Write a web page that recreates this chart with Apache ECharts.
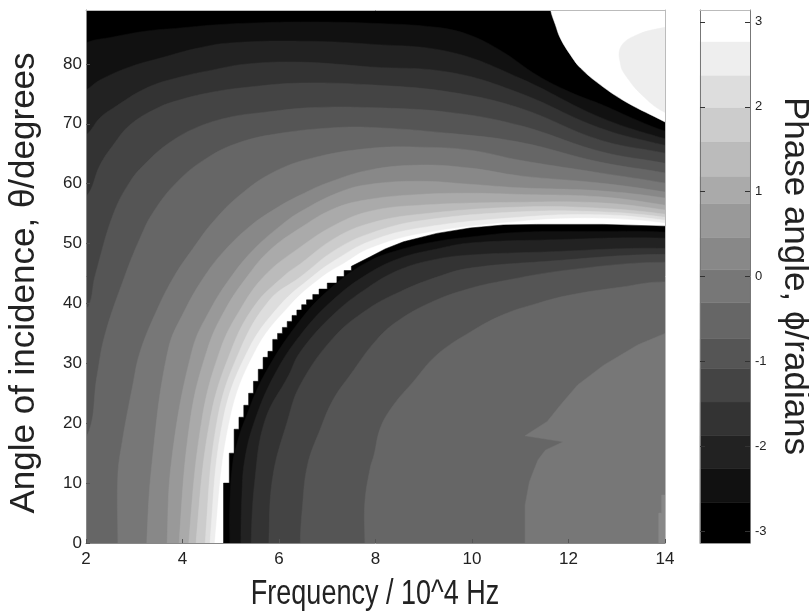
<!DOCTYPE html>
<html><head><meta charset="utf-8">
<style>html,body{margin:0;padding:0;background:#fff}#c{width:809px;height:613px}</style>
<script src="https://cdn.jsdelivr.net/npm/echarts@6/dist/echarts.min.js"></script>
</head><body><div id="c"></div>
<script>
const barTicks=[-3,-2,-1,0,1,2,3];
const xTitle='Frequency / 10^4 Hz';
const yTitle='Angle of incidence, θ/degrees';
const barTitle='Phase angle, ϕ/radians';
const grays=['#000000','#111111','#222222','#333333','#444444','#555555','#666666','#777777','#888888','#999999','#aaaaaa','#bbbbbb','#cccccc','#dddddd','#eeeeee','#ffffff'];
// colour-bar band edges (radians), bottom to top
const barEdges=[-3.14,-2.66,-2.26,-1.87,-1.48,-1.08,-0.73,-0.31,0.08,0.46,0.86,1.18,1.59,1.99,2.37,2.77,3.14];
// level boundaries of the upper sheet: [frequency, angle]
const C1=[[2,83.5],[2.56,84.5],[3.26,85.5],[3.95,86],[4.63,86.5],[5.34,86.8],[6.44,87],[7.89,86.8],[9.27,86.1],[9.96,84.8],[10.64,82],[11.35,78.1],[12.03,75.3],[12.72,73.1],[13.42,70.6],[14,68.8]];
const C2=[[2,75.6],[2.29,77.3],[2.91,79.5],[3.6,81.1],[4.3,82.6],[4.98,83.5],[6.44,83.8],[7.89,83.3],[9.54,82],[11,77.6],[12.65,71.1],[14,67.5]];
const C3=[[2,68.1],[2.29,71],[2.56,72.6],[3.26,76],[3.95,77.8],[4.63,79],[5.34,80],[6.44,80.3],[7.89,79.5],[9.54,78.6],[11,75.1],[12.65,69.3],[14,66.4]];
const C4=[[2,57.8],[2.29,63.1],[2.56,66.4],[2.91,69.8],[3.47,72.6],[3.95,74],[4.63,75.3],[5.34,76.1],[6.44,76.8],[7.89,76.5],[9.54,75.3],[11,72.6],[12.65,67.3],[14,65.1]];
const C5=[[2,38.9],[2.19,44.7],[2.56,54.8],[2.91,60.3],[3.26,63.6],[3.74,66.9],[4.3,69.4],[4.98,71.1],[5.67,71.9],[6.7,72.7],[7.89,72.7],[9.54,71.9],[11,69.7],[12.65,65.4],[14,63.4]];
const C6=[[2,17.5],[2.23,28],[2.39,34.7],[2.81,44.7],[3.12,50.9],[3.39,55.2],[3.89,60.3],[4.51,64.3],[5.19,66.9],[6.02,68.4],[7.06,69.3],[7.89,69.4],[9.54,68.4],[11,66.9],[12.65,63.6],[14,61.8]];
const C7=[[2.66,0],[2.66,11.3],[2.75,16.9],[2.97,26.4],[3.12,31.9],[3.47,38.9],[3.84,44.7],[4.22,49.2],[4.63,53.6],[5.19,58.1],[5.88,61.9],[6.7,64.3],[7.89,65.9],[8.92,66.1],[9.96,65.6],[11,63.9],[12.65,61.8],[14,60.1]];
const C8=[[3.26,0],[3.37,13.5],[3.7,32.2],[4.05,38.9],[4.47,44.7],[4.88,48.9],[5.4,52.9],[5.92,55.8],[6.44,58.1],[7.06,60.3],[7.89,62.3],[8.92,63.1],[9.96,62.6],[11,61.3],[12.65,60.1],[14,58.6]];
const C9=[[3.68,0],[3.78,14.2],[4.2,32.2],[4.57,38.9],[5.03,44.7],[5.5,49.2],[6.02,52.9],[6.44,55.3],[7.26,58.6],[7.89,59.9],[8.92,60.4],[9.96,59.9],[11,59.3],[12.65,58.8],[14,57.6]];
const C10=[[3.93,0],[4.16,20.5],[4.51,32.2],[4.88,38.9],[5.36,44.7],[5.81,48.9],[6.44,52.6],[7.16,55.9],[7.89,57.4],[8.92,58.2],[9.96,58.4],[11,58.2],[12.65,57.8],[14,56.4]];
const C11=[[4.13,0],[4.4,20.5],[4.78,32.2],[5.19,38.9],[5.71,44.7],[6.44,49.4],[7.16,53.1],[7.89,55.4],[8.92,56.4],[11,56.9],[12.65,56.8],[14,55.6]];
const C12=[[4.28,0],[4.57,20.5],[5.01,32.2],[5.5,39.7],[6.12,44.7],[6.44,46.6],[7.16,50.9],[7.89,53.4],[8.92,54.9],[11,56.1],[12.65,55.9],[14,54.9]];
const C13=[[4.47,0],[4.72,20.5],[5.19,32.2],[5.81,40.6],[6.44,44.4],[7.16,48.9],[7.89,51.7],[8.92,53.8],[11,55.3],[12.65,55.3],[14,54.4]];
const C14=[[4.57,0],[4.84,20.5],[5.36,32.2],[6.02,39.7],[6.68,44.4],[7.16,47.2],[7.89,50.4],[8.92,52.6],[11,54.4],[12.65,54.8],[14,53.9]];
const C15=[[4.67,0],[4.98,20.5],[5.52,32.2],[6.23,39.7],[6.89,44.4],[7.37,46.8],[7.89,49.2],[8.92,51.6],[11,53.7],[12.65,54.2],[14,53.4]];
// wrap edge from white to black, and the lower sheet's boundaries
const D0=[[4.85,0],[4.85,10],[4.97,10],[4.97,15],[5.07,15],[5.07,19],[5.17,19],[5.17,21],[5.27,21],[5.27,23],[5.37,23],[5.37,25],[5.47,25],[5.47,27],[5.57,27],[5.57,29],[5.67,29],[5.67,31],[5.77,31],[5.77,32],[5.87,32],[5.87,34],[5.97,34],[5.97,35],[6.07,35],[6.07,36],[6.17,36],[6.17,37],[6.27,37],[6.27,38],[6.37,38],[6.37,38.9],[6.47,38.9],[6.47,39.8],[6.57,39.8],[6.57,40.6],[6.7,40.6],[6.7,41.5],[6.83,41.5],[6.83,42.4],[7,42.4],[7,43.4],[7.2,43.4],[7.2,44.5],[7.35,44.5],[7.35,45.5],[7.5,45.5],[7.5,46.2],[7.89,47.8],[8.2,49.1],[8.58,50.3],[9.27,51.7],[9.96,52.6],[10.65,53.1],[11.34,53.2],[12.03,53.2],[12.72,53.2],[14,52.9]];
const D1=[[4.98,0],[4.98,6],[5.04,13.3],[5.15,17.2],[5.29,20.5],[5.69,28],[6.44,37.2],[7.12,42.9],[7.83,46.9],[8.52,49],[9.29,50.4],[9.96,51.1],[11,51.9],[12.4,52],[14,51.9]];
const D2=[[5.21,0],[5.23,7.7],[5.29,13.9],[5.5,20.5],[5.9,28],[6.44,34.7],[7.12,40.6],[7.83,44.9],[8.52,47.6],[9.27,49.1],[9.96,50.1],[11.5,50.6],[14,50.9]];
const D3=[[5.42,0],[5.5,10.5],[5.71,20.5],[6.2,28],[6.44,31.9],[7.12,38.1],[7.83,42.6],[8.52,45.7],[9.27,47.4],[9.96,48.1],[11.5,48.6],[14,49.2]];
const D4=[[5.79,0],[5.87,11],[6.18,20.5],[6.44,26.4],[7.12,34.2],[7.83,39],[8.52,42],[9.27,44.4],[9.96,45.9],[11.5,47],[14,48.2]];
const D5=[[6.44,0],[6.48,5.5],[6.59,13],[6.85,18.9],[7.12,23.9],[7.47,28],[8.03,34],[8.52,37.4],[9.21,40.4],[9.91,42.4],[10.6,43.7],[12,45.6],[14,46.9]];
const D6=[[7.78,0],[7.78,6.8],[7.89,12.5],[7.97,14.7],[8.1,19.2],[8.37,23],[8.78,26.9],[9.27,31.4],[9.96,35.2],[10.64,38.1],[11.35,40],[12.03,41.4],[13.07,42.7],[14,43.6]];
const D7=[[11.1,0],[11.1,6.3],[11.19,10.2],[11.27,11.9],[11.37,13.9],[11.52,15.5],[11.89,16.9],[11.1,17.9],[11.56,20.3],[11.83,23],[12.19,26.4],[12.73,29.7],[13.44,33.1],[14,35]];
const E1=[[13.87,0],[13.87,5],[13.93,5],[13.93,8],[14,8],[14,0]];
// top-right white cap and its grey island
const W1=[[11.6,92],[11.63,89],[11.73,86.5],[11.83,84.3],[12.04,81.5],[12.25,79.3],[12.66,76.5],[13.2,73.6],[14,70.3],[14.5,68],[14.5,92]];
const W2=[[14.5,86.5],[14,86.1],[13.4,84.8],[13.08,82.8],[13.08,79.8],[13.18,78.1],[13.52,74.8],[14,71.9],[14.5,71]];
const upper=[C1,C2,C3,C4,C5,C6,C7,C8,C9,C10,C11,C12,C13,C14,C15];
const lower=[D1,D2,D3,D4,D5,D6];

function sheet(c){
  const a=c[0],z=c[c.length-1],fromBottom=a[1]===0;
  const head=fromBottom?[[a[0],-6]]:[[1.4,a[1]-3]];
  return head.concat(c,[[14.6,z[1]-1],[14.6,-30],[fromBottom?a[0]:1.4,-30]]);
}
const bands=[];
bands.push({pts:[[2,0],[2,89],[14,89],[14,0]],level:0,smooth:0});
upper.forEach((c,i)=>bands.push({pts:sheet(c),level:i+1,smooth:0.4}));
bands.push({pts:D0.concat([[14,0]]),level:0,smooth:0});
lower.forEach((c,i)=>bands.push({pts:sheet(c),level:i+1,smooth:0.4}));
bands.push({pts:D7.concat([[14,0]]),level:7,smooth:0});
bands.push({pts:E1,level:8,smooth:0});
bands.push({pts:W1,level:15,smooth:0.4});
bands.push({pts:W2,level:14,smooth:0.4});

const chart=echarts.init(document.getElementById('c'),null,{renderer:'canvas'});
const F='"Liberation Sans",Arial,sans-serif';
const plain=(i,pos,col)=>({gridIndex:i,type:'value',position:pos,z:5,axisLine:{show:true,onZero:false,lineStyle:{color:col}},axisTick:{show:false},axisLabel:{show:false},splitLine:{show:false}});
chart.setOption({
  animation:false,
  backgroundColor:'#fff',
  grid:[
    {left:86,width:579,top:10,height:533},
    {left:700,width:50,top:10,height:533}
  ],
  xAxis:[
    {gridIndex:0,type:'value',min:2,max:14,interval:2,position:'bottom',z:5,
     axisLine:{onZero:false,lineStyle:{color:'#888',width:1}},axisTick:{inside:true,length:4,lineStyle:{color:'#555'}},
     axisLabel:{margin:8,fontFamily:F,fontSize:17,color:'#222'},splitLine:{show:false}},
    Object.assign(plain(0,'top','#bbb'),{min:2,max:14}),
    Object.assign(plain(1,'bottom','#999'),{min:0,max:1}),
    Object.assign(plain(1,'top','#bbb'),{min:0,max:1})
  ],
  yAxis:[
    {gridIndex:0,type:'value',min:0,max:89,interval:10,position:'left',z:5,
     axisLine:{show:true,onZero:false,lineStyle:{color:'#888'}},axisTick:{inside:true,length:4,lineStyle:{color:'#555'}},
     axisLabel:{margin:4,showMaxLabel:false,fontFamily:F,fontSize:17,color:'#222'},splitLine:{show:false}},
    Object.assign(plain(0,'right','#bbb'),{min:0,max:89}),
    {gridIndex:1,type:'value',min:-3.14,max:3.14,position:'right',z:5,
     axisLine:{show:true,onZero:false,lineStyle:{color:'#777'}},
     axisTick:{inside:true,length:5,customValues:barTicks,lineStyle:{color:'#333'}},
     axisLabel:{customValues:barTicks,margin:5,fontFamily:F,fontSize:13,color:'#222'},splitLine:{show:false}},
    {gridIndex:1,type:'value',min:-3.14,max:3.14,position:'left',z:5,
     axisLine:{show:true,onZero:false,lineStyle:{color:'#777'}},
     axisTick:{inside:true,length:5,customValues:barTicks,lineStyle:{color:'#333'}},
     axisLabel:{show:false},splitLine:{show:false}}
  ],
  graphic:[
    {type:'text',x:375,y:594,scaleY:1.3,silent:true,style:{text:xTitle,font:'27px '+F,fill:'#222',textAlign:'center',textVerticalAlign:'middle'}},
    {type:'text',x:24,y:283,rotation:Math.PI/2,silent:true,style:{text:yTitle,font:'35px '+F,fill:'#222',textAlign:'center',textVerticalAlign:'middle'}},
    {type:'text',x:795,y:276,rotation:-Math.PI/2,silent:true,style:{text:barTitle,font:'35px '+F,fill:'#222',textAlign:'center',textVerticalAlign:'middle'}}
  ],
  series:[
    {type:'custom',xAxisIndex:0,yAxisIndex:0,silent:true,clip:true,z:1,
     data:bands.map((b,i)=>[i]),
     renderItem:function(p,api){
       const b=bands[api.value(0)];
       return {type:'polygon',shape:{points:b.pts.map(q=>api.coord(q)),smooth:b.smooth},
         style:{fill:grays[b.level],stroke:grays[b.level],lineWidth:0.5}};
     }},
    {type:'custom',xAxisIndex:2,yAxisIndex:2,silent:true,z:1,
     data:grays.map((g,i)=>[i]),
     renderItem:function(p,api){
       const i=api.value(0);
       const a=api.coord([0,barEdges[i+1]]),b=api.coord([1,barEdges[i]]);
       return {type:'rect',shape:{x:a[0],y:a[1],width:b[0]-a[0],height:b[1]-a[1]},style:{fill:grays[i],stroke:grays[i],lineWidth:0.5}};
     }}
  ]
});
</script></body></html>
